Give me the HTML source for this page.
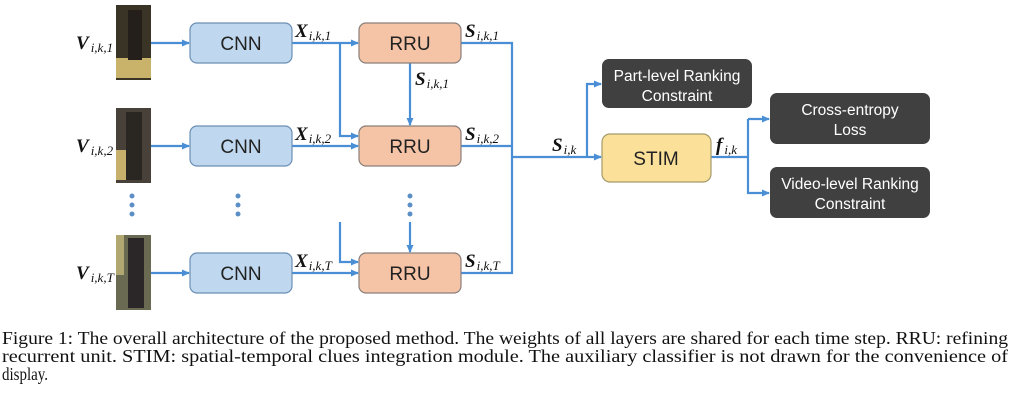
<!DOCTYPE html>
<html><head><meta charset="utf-8"><style>
html,body{margin:0;padding:0;background:#fff;width:1012px;height:400px;overflow:hidden}
svg{display:block}
.b{font-family:"Liberation Sans",sans-serif;font-size:19px;fill:#222}
.w{font-family:"Liberation Sans",sans-serif;font-size:15.5px;fill:#fff}
.m{font-family:"Liberation Serif",serif;font-style:italic;font-weight:bold;font-size:19px;fill:#111}
.s{font-size:13px;font-weight:normal}
.c{font-family:"Liberation Serif",serif;font-size:18px;fill:#111}
</style></head><body>
<svg width="1012" height="400" viewBox="0 0 1012 400">
<defs><marker id="a" markerWidth="8" markerHeight="8" refX="7" refY="4" orient="auto" markerUnits="userSpaceOnUse"><path d="M0,0.5 L8,4 L0,7.5z" fill="#4a8fd6"/></marker></defs>
<g>
<rect x="116" y="5" width="35" height="75" fill="#3a3426"/><rect x="116" y="58" width="35" height="20" fill="#c9b36a"/><rect x="128" y="10" width="14" height="50" fill="#241f1a"/>
<rect x="116" y="108" width="35" height="75" fill="#47413a"/><rect x="116" y="150" width="22" height="30" fill="#c7b06c"/><rect x="126" y="112" width="16" height="68" fill="#2a2622"/>
<rect x="116" y="235" width="35" height="75" fill="#6a6a52"/><rect x="128" y="238" width="16" height="70" fill="#2b2628"/><rect x="116" y="235" width="8" height="40" fill="#b0a870"/>
</g>
<g stroke="#4a8fd6" stroke-width="2.2" fill="none">
<line x1="151" y1="43" x2="189" y2="43" marker-end="url(#a)"/>
<line x1="151" y1="146" x2="189" y2="146" marker-end="url(#a)"/>
<line x1="151" y1="273" x2="189" y2="273" marker-end="url(#a)"/>
<line x1="292" y1="43" x2="358" y2="43" marker-end="url(#a)"/>
<polyline points="340,43 340,136 358,136" marker-end="url(#a)"/>
<line x1="292" y1="146" x2="358" y2="146" marker-end="url(#a)"/>
<polyline points="340,222 340,262 358,262" marker-end="url(#a)"/>
<line x1="292" y1="273" x2="358" y2="273" marker-end="url(#a)"/>
<line x1="410" y1="63" x2="410" y2="125" marker-end="url(#a)"/>
<line x1="410" y1="222" x2="410" y2="252" marker-end="url(#a)"/>
<polyline points="461,43 512,43 512,273 461,273"/>
<line x1="461" y1="146" x2="512" y2="146"/>
<line x1="512" y1="157" x2="601" y2="157" marker-end="url(#a)"/>
<polyline points="587,157 587,84 601,84" marker-end="url(#a)"/>
<line x1="711" y1="157" x2="748" y2="157"/>
<polyline points="748,119 769,119" marker-end="url(#a)"/>
<polyline points="748,119 748,193 769,193" marker-end="url(#a)"/>
</g>
<g fill="#5b8fc6">
<circle cx="132" cy="196" r="2.5"/><circle cx="132" cy="205" r="2.5"/><circle cx="132" cy="214" r="2.5"/>
<circle cx="238" cy="196" r="2.5"/><circle cx="238" cy="205" r="2.5"/><circle cx="238" cy="214" r="2.5"/>
<circle cx="410" cy="196" r="2.5"/><circle cx="410" cy="205" r="2.5"/><circle cx="410" cy="214" r="2.5"/>
</g>
<g stroke="#6b8fb5" stroke-width="1.2" fill="#bfd8ef">
<rect x="190" y="23" width="102" height="40" rx="7"/>
<rect x="190" y="126" width="102" height="40" rx="7"/>
<rect x="190" y="253" width="102" height="40" rx="7"/>
</g>
<g stroke="#8a7f7a" stroke-width="1.2" fill="#f5c4a6">
<rect x="359" y="23" width="102" height="40" rx="7"/>
<rect x="359" y="126" width="102" height="40" rx="7"/>
<rect x="359" y="253" width="102" height="40" rx="7"/>
</g>
<rect x="602" y="134" width="109" height="48" rx="8" fill="#fbe09a" stroke="#a39a6a" stroke-width="1.2"/>
<g fill="#404040">
<rect x="602" y="59" width="150" height="49" rx="7"/>
<rect x="770" y="93" width="160" height="51" rx="7"/>
<rect x="770" y="167" width="160" height="51" rx="7"/>
</g>
<g class="b" text-anchor="middle">
<text x="241" y="50">CNN</text><text x="241" y="153">CNN</text><text x="241" y="280">CNN</text>
<text x="410" y="50">RRU</text><text x="410" y="153">RRU</text><text x="410" y="280">RRU</text>
<text x="656" y="165">STIM</text>
</g>
<g class="w" text-anchor="middle">
<text x="677" y="81">Part-level Ranking</text><text x="677" y="101">Constraint</text>
<text x="850" y="115">Cross-entropy</text><text x="850" y="135">Loss</text>
<text x="850" y="189">Video-level Ranking</text><text x="850" y="209">Constraint</text>
</g>
<g class="m">
<text x="76" y="49">V<tspan class="s" dx="2" dy="3">i,k,1</tspan></text>
<text x="76" y="152">V<tspan class="s" dx="2" dy="3">i,k,2</tspan></text>
<text x="76" y="279">V<tspan class="s" dx="2" dy="3">i,k,T</tspan></text>
<text x="295" y="37">X<tspan class="s" dx="1" dy="3">i,k,1</tspan></text>
<text x="295" y="140">X<tspan class="s" dx="1" dy="3">i,k,2</tspan></text>
<text x="295" y="267">X<tspan class="s" dx="1" dy="3">i,k,T</tspan></text>
<text x="465" y="37">S<tspan class="s" dx="1" dy="3">i,k,1</tspan></text>
<text x="465" y="140">S<tspan class="s" dx="1" dy="3">i,k,2</tspan></text>
<text x="465" y="267">S<tspan class="s" dx="1" dy="3">i,k,T</tspan></text>
<text x="415" y="85">S<tspan class="s" dx="1" dy="3">i,k,1</tspan></text>
<text x="552" y="151">S<tspan class="s" dx="1" dy="3">i,k</tspan></text>
<text x="716" y="151">f<tspan class="s" dx="2" dy="3">i,k</tspan></text>
</g>
<g class="c">
<text x="2" y="344" textLength="1006" lengthAdjust="spacingAndGlyphs">Figure 1: The overall architecture of the proposed method. The weights of all layers are shared for each time step. RRU: refining</text>
<text x="2" y="362" textLength="1006" lengthAdjust="spacingAndGlyphs">recurrent unit. STIM: spatial-temporal clues integration module. The auxiliary classifier is not drawn for the convenience of</text>
<text x="2" y="380" textLength="46" lengthAdjust="spacingAndGlyphs">display.</text>
</g>
</svg>
</body></html>
